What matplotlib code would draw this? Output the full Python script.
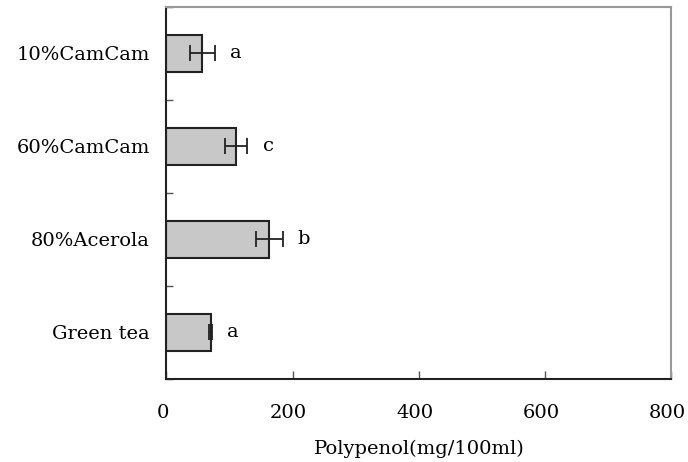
import matplotlib
matplotlib.use("Agg")
import matplotlib.pyplot as plt
import matplotlib.transforms as mtransforms
import numpy as np

categories = ["Green tea", "80%Acerola", "60%CamCam", "10%CamCam"]
values = [70, 163, 110, 57]
errors = [2, 22, 18, 20]
letters = ["a", "b", "c", "a"]

plt.rcParams['font.family'] = ['DejaVu Serif']
plt.rcParams['font.size'] = 13

fig = plt.figure(figsize=(6.88, 4.62), dpi=100)
ax = fig.add_axes([0.242, 0.180, 0.734, 0.805])

y = np.arange(len(categories))
ax.barh(y, values, height=0.4, color="#c8c8c8", edgecolor="#222222", linewidth=1.5, zorder=2)
ax.errorbar(values, y, xerr=errors, fmt="none", ecolor="#222222", elinewidth=1.3,
            capsize=6, capthick=1.3, zorder=3)
for yi, v, e, l in zip(y, values, errors, letters):
    ax.annotate(l, (v + e, yi), xytext=(15, 0), textcoords="offset points",
                ha="center", va="center", fontsize=14)

ax.set_xlim(0, 800)
ax.set_ylim(-0.5, len(categories) - 0.5)
ax.set_xticks([0, 200, 400, 600, 800])
ax.set_yticks(y)
ax.set_yticklabels(categories)
ax.set_yticks(np.arange(-0.5, len(categories), 1.0), minor=True)
ax.tick_params(axis="y", which="major", length=0, pad=12, labelsize=14)
ax.tick_params(axis="y", which="minor", direction="in", length=5, width=1, color="#555555")
ax.tick_params(axis="x", direction="in", length=6, width=1, color="#555555", pad=18, labelsize=14)
ax.set_xlabel("Polypenol(mg/100ml)", fontsize=14, labelpad=13)

shift = mtransforms.ScaledTranslation(-4 / 100, 0, fig.dpi_scale_trans)
for lab in ax.get_xticklabels():
    lab.set_transform(lab.get_transform() + shift)

for s in ["left", "bottom"]:
    ax.spines[s].set_color("#222222")
    ax.spines[s].set_linewidth(1.5)
for s in ["top", "right"]:
    ax.spines[s].set_color("#999999")
    ax.spines[s].set_linewidth(1.5)

fig.savefig("out.png", dpi=100)
